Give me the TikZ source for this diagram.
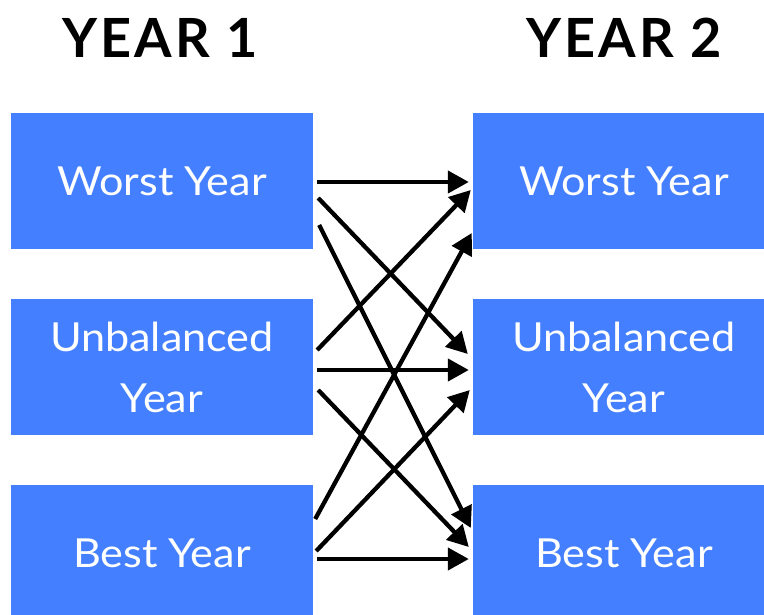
\documentclass[tikz,border=0pt]{standalone}
\usepackage{fontspec}
\setmainfont{Lato}
\newfontfamily\titlefont[LetterSpace=6]{Lato}
\newfontfamily\boxfont[FakeStretch=1.08]{Lato}
\usetikzlibrary{arrows.meta,calc}
\definecolor{boxblue}{RGB}{68,127,255}
\begin{document}
\begin{tikzpicture}[x=1pt,y=-1pt,
  yrbox/.style={fill=boxblue, draw=none, minimum width=302pt, minimum height=136pt,
    inner sep=0pt, font=\boxfont\fontsize{40}{61}\selectfont, text=white, align=center},
  ttl/.style={font=\titlefont\bfseries\fontsize{54}{60}\selectfont, anchor=base, inner sep=0pt},
  arr/.style={line width=4.3pt, -{Triangle[length=21pt,width=22pt]}}]
\path[use as bounding box] (0,0) rectangle (764,614);
\clip (0,0) rectangle (764,614);
\node[ttl] (T1) at (160,57) {YEAR 1};
\node[ttl] (T2) at (624,57) {YEAR 2};
\node[yrbox] (L1) at (162,181) {Worst Year};
\node[yrbox] (L2) at (162,367) {Unbalanced\\Year};
\node[yrbox] (L3) at (162,553) {Best Year};
\node[yrbox] (R1) at (624,181) {Worst Year};
\node[yrbox] (R2) at (624,367) {Unbalanced\\Year};
\node[yrbox] (R3) at (624,553) {Best Year};
\draw[arr] ($(L1.east)+(4,1)$) -- ($(R1.west)+(-4,1)$);
\draw[arr] ($(L1.east)+(5,17)$) -- ($(R2.west)+(-5,-13)$);
\draw[arr] ($(L1.east)+(6,44)$) -- ($(R3.west)+(-2,-25)$);
\draw[arr] ($(L2.east)+(4,-17)$) -- ($(R1.west)+(-2,9)$);
\draw[arr] ($(L2.east)+(4,3)$) -- ($(R2.west)+(-4,3)$);
\draw[arr] ($(L2.east)+(5,23)$) -- ($(R3.west)+(-4,-6)$);
\draw[arr] ($(L3.east)+(2,-34)$) -- ($(R1.west)+(-1,52)$);
\draw[arr] ($(L3.east)+(3,-2)$) -- ($(R2.west)+(-3,23)$);
\draw[arr] ($(L3.east)+(4,6)$) -- ($(R3.west)+(-4,6)$);
\end{tikzpicture}
\end{document}
